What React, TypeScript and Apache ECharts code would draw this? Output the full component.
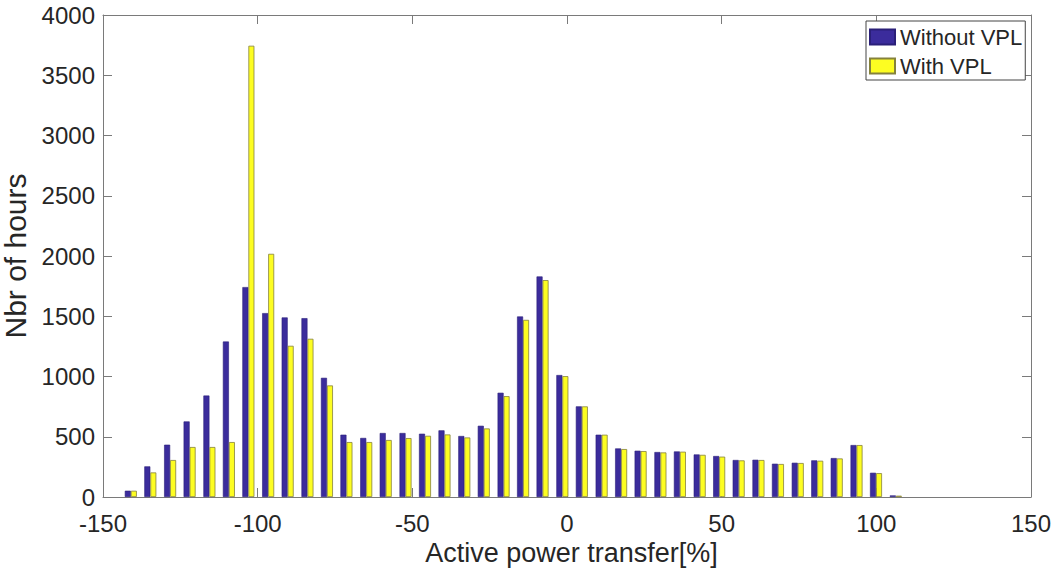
import React, { useEffect, useRef } from "react";
import * as echarts from "echarts";

const binCenters = [
  -141.0, -134.7, -128.3, -122.0, -115.6, -109.3, -103.0, -96.6, -90.3, -83.9,
  -77.6, -71.3, -64.9, -58.6, -52.2, -45.9, -39.6, -33.2, -26.9, -20.5,
  -14.2, -7.9, -1.5, 4.8, 11.2, 17.5, 23.8, 30.2, 36.5, 42.9,
  49.2, 55.5, 61.9, 68.2, 74.6, 80.9, 87.2, 93.6, 99.9, 106.3,
];

const withoutVPL = [
  52, 254, 434, 627, 842, 1290, 1742, 1526, 1490, 1484,
  989, 517, 490, 531, 531, 525, 553, 506, 591, 865,
  1498, 1830, 1012, 752, 517, 403, 384, 373, 378, 353,
  340, 307, 309, 276, 284, 304, 323, 431, 201, 13,
];

const withVPL = [
  52, 204, 307, 415, 415, 456, 3745, 2018, 1255, 1313,
  926, 456, 456, 473, 489, 508, 519, 494, 569, 837,
  1470, 1800, 1003, 752, 517, 398, 381, 370, 376, 350,
  335, 304, 307, 274, 282, 301, 320, 431, 198, 11,
];

const xTicks = { min: -150, max: 150, interval: 50 };
const yTicks = { min: 0, max: 4000, interval: 500 };

const seriesNames = ["Without VPL", "With VPL"];

export default function App() {
  const ref = useRef<HTMLDivElement>(null);
  useEffect(() => {
    if (!ref.current) return;
    const chart = echarts.init(ref.current, undefined, { renderer: "svg" });
    const axisColor = "#7a7a7a";
    const textColor = "#262626";
    const font = "Liberation Sans, Arial, sans-serif";
    const tickStyle = { show: true, inside: true, length: 9, lineStyle: { color: axisColor, width: 1 } };
    const lineStyle = { show: true, onZero: false, lineStyle: { color: axisColor, width: 1 } };
    const plain = (v: number) => String(v);
    chart.setOption({
      animation: false,
      backgroundColor: "#ffffff",
      grid: { left: 103, right: 23, top: 15, bottom: 77, containLabel: false, outerBoundsMode: "none" },
      legend: {
        orient: "vertical",
        left: 866,
        top: 21,
        padding: [5, 3, 3, 3],
        itemWidth: 25,
        itemHeight: 15,
        itemGap: 7,
        borderColor: "#444",
        borderWidth: 1,
        backgroundColor: "#fff",
        textStyle: { fontSize: 22, color: textColor, fontFamily: font, lineHeight: 22 },
        data: seriesNames.map((n) => ({ name: n, icon: "rect" })),
      },
      xAxis: [
        {
          type: "value",
          min: xTicks.min,
          max: xTicks.max,
          interval: xTicks.interval,
          position: "bottom",
          name: "Active power transfer[%]",
          nameLocation: "middle",
          nameGap: 22,
          nameTextStyle: { fontSize: 27, color: textColor, fontFamily: font, padding: [0, 0, 0, 9] },
          axisLine: lineStyle,
          axisTick: tickStyle,
          axisLabel: { fontSize: 24, lineHeight: 18, color: textColor, fontFamily: font, margin: 17, formatter: plain },
          splitLine: { show: false },
        },
        {
          type: "value",
          min: xTicks.min,
          max: xTicks.max,
          interval: xTicks.interval,
          position: "top",
          axisLine: lineStyle,
          axisTick: tickStyle,
          axisLabel: { show: false },
          splitLine: { show: false },
        },
      ],
      yAxis: [
        {
          type: "value",
          min: yTicks.min,
          max: yTicks.max,
          interval: yTicks.interval,
          position: "left",
          name: "Nbr of hours",
          nameLocation: "middle",
          nameGap: 64,
          nameTextStyle: { fontSize: 30, color: textColor, fontFamily: font },
          axisLine: lineStyle,
          axisTick: tickStyle,
          axisLabel: { fontSize: 24, lineHeight: 18, color: textColor, fontFamily: font, margin: 8, formatter: plain },
          splitLine: { show: false },
        },
        {
          type: "value",
          min: yTicks.min,
          max: yTicks.max,
          interval: yTicks.interval,
          position: "right",
          axisLine: lineStyle,
          axisTick: tickStyle,
          axisLabel: { show: false },
          splitLine: { show: false },
        },
      ],
      series: [
        {
          name: seriesNames[0],
          type: "bar",
          xAxisIndex: 0,
          yAxisIndex: 0,
          barWidth: 6,
          barGap: "0%",
          itemStyle: { color: "#3b2c9c", borderColor: "#2a1f78", borderWidth: 0.6 },
          data: binCenters.map((x, i) => [x, withoutVPL[i]]),
        },
        {
          name: seriesNames[1],
          type: "bar",
          xAxisIndex: 0,
          yAxisIndex: 0,
          barWidth: 6,
          barGap: "0%",
          itemStyle: { color: "#fdfd22", borderColor: "#85823c", borderWidth: 0.8 },
          data: binCenters.map((x, i) => [x, withVPL[i]]),
        },
      ],
    });
    return () => chart.dispose();
  }, []);
  return (
    <div
      ref={ref}
      style={{ position: "fixed", left: 0, top: 0, width: 1054, height: 574, background: "#fff" }}
    />
  );
}
